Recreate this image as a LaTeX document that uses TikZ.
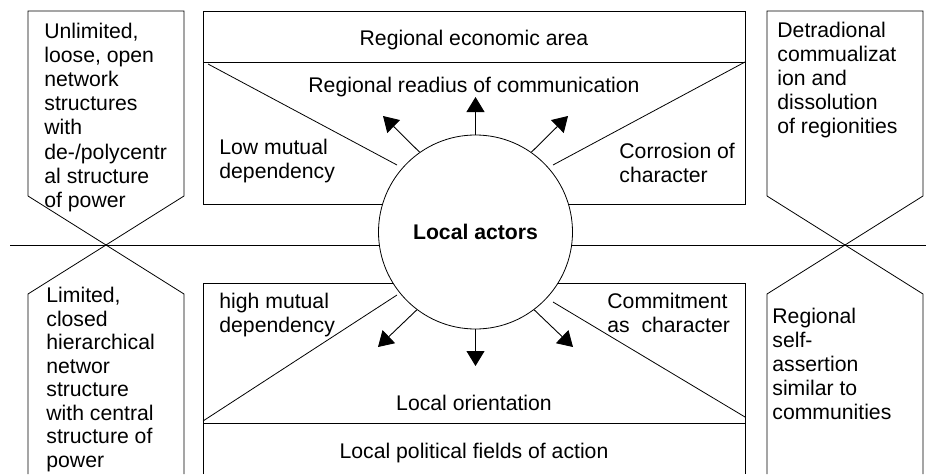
\documentclass[tikz,border=0pt]{standalone}
\usepackage{fontspec}
\setmainfont{Liberation Sans}
\usetikzlibrary{arrows.meta}
\begin{document}
\begin{tikzpicture}[x=1pt,y=-1pt,line width=0.8pt,
  txt/.style={inner sep=0pt,anchor=base west,align=left,font=\fontsize{21.2}{24.2}\selectfont},
  ctxt/.style={inner sep=0pt,anchor=base,font=\fontsize{21.2}{24.2}\selectfont},
  arr/.style={-{Triangle[width=18pt,length=15pt]},line width=0.9pt}]
\useasboundingbox (0,0) rectangle (926,474);
% middle horizontal line
\coordinate (hl) at (10,245);
\coordinate (hr) at (926,245);
\draw (hl) -- (hr);
% left column
\draw (28,196) -- (28,11) -- (184,11) -- (184,196) -- (28,294) -- (28,474);
\draw (28,196) -- (184,294) -- (184,474);
% right column
\draw (767,196) -- (767,11) -- (923,11) -- (923,196) -- (767,294) -- (767,474);
\draw (767,196) -- (923,294) -- (923,474);
% top central box
\draw (203,11) rectangle (745,204);
\draw (203,62) -- (745,62);
\draw (208,64) -- (397,165);
\draw (745,62) -- (553,165);
% bottom central box
\draw (203,474) -- (203,283) -- (745,283) -- (745,474);
\draw (203,423) -- (745,423);
\draw (203,421) -- (397,295);
\draw (745,417) -- (553,302);
% circle
\node[circle,draw,fill=white,minimum size=194pt,inner sep=0pt,
      font=\fontsize{21.2}{24.2}\selectfont\bfseries] (actors) at (475.5,232) {Local actors};
% arrows
\coordinate (tl) at (383,116);
\coordinate (tc) at (475.5,97);
\coordinate (tr) at (568,116);
\coordinate (bl) at (378,347);
\coordinate (bc) at (475.5,366);
\coordinate (br) at (573,347);
\draw[arr] (actors.125) -- (tl);
\draw[arr] (actors.90) -- (tc);
\draw[arr] (actors.55) -- (tr);
\draw[arr] (actors.233) -- (bl);
\draw[arr] (actors.270) -- (bc);
\draw[arr] (actors.307) -- (br);
% texts (anchor = baseline of the last line)
\node[txt] (t1) at (44,207.4) {Unlimited,\\loose, open\\network\\structures\\with\\de-/polycentr\\al structure\\of power};
\node[txt,font=\fontsize{21.2}{23.5}\selectfont] (t2) at (46,467) {Limited,\\closed\\hierarchical\\networ\\structure\\with central\\structure of\\power};
\node[txt] (t3) at (777,133.8) {Detradional\\commualizat\\ion and\\dissolution\\of regionities};
\node[txt] (t4) at (772,419.8) {Regional\\self-\\assertion\\similar to\\communities};
\node[ctxt] (c1) at (474,45) {Regional economic area};
\node[ctxt] (c2) at (474,92) {Regional readius of communication};
\node[txt] (c3) at (219,178.2) {Low mutual\\dependency};
\node[txt] (c4) at (619,182.2) {Corrosion of\\character};
\node[txt] (c5) at (219,332.2) {high mutual\\dependency};
\node[txt] (c6) at (607,332.2) {Commitment\\as\ \ character};
\node[ctxt] (c7) at (474,410) {Local orientation};
\node[ctxt] (c8) at (474,458) {Local political fields of action};
\end{tikzpicture}
\end{document}
